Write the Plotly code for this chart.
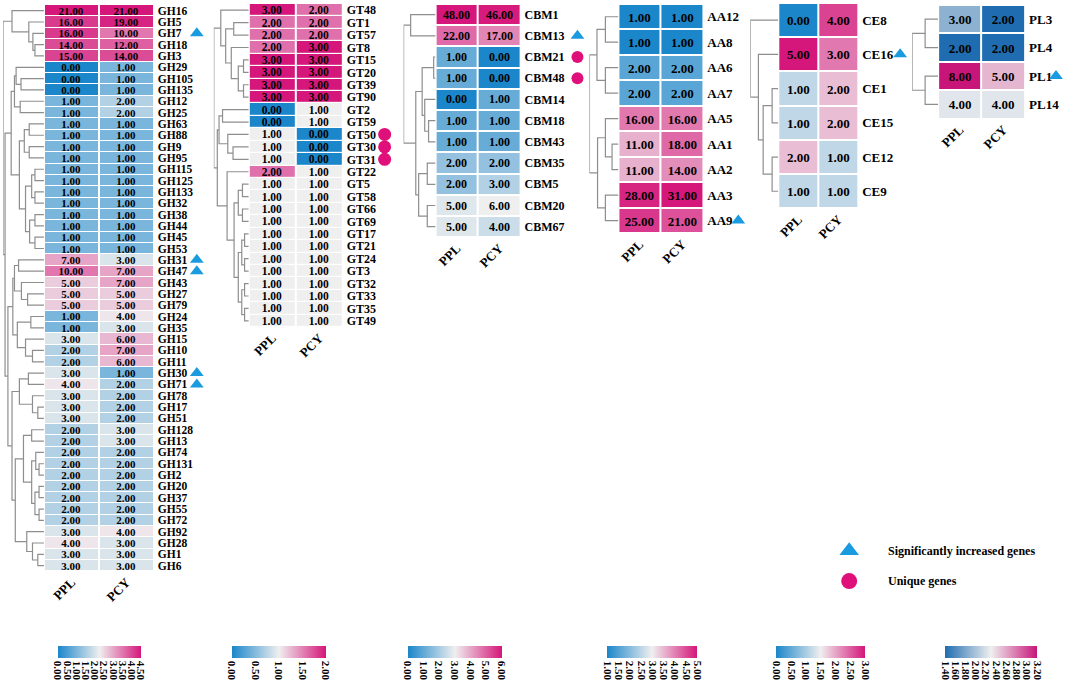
import numpy as np
import plotly.graph_objects as go

W, H = 1065, 688
FONT = "Liberation Serif"

# ---------------- data ----------------
gh_genes = ["GH16", "GH5", "GH7", "GH18", "GH3", "GH29", "GH105", "GH135", "GH12", "GH25",
            "GH63", "GH88", "GH9", "GH95", "GH115", "GH125", "GH133", "GH32", "GH38", "GH44",
            "GH45", "GH53", "GH31", "GH47", "GH43", "GH27", "GH79", "GH24", "GH35", "GH15",
            "GH10", "GH11", "GH30", "GH71", "GH78", "GH17", "GH51", "GH128", "GH13", "GH74",
            "GH131", "GH2", "GH20", "GH37", "GH55", "GH72", "GH92", "GH28", "GH1", "GH6"]
gh_ppl = [21, 16, 16, 14, 15, 0, 0, 0, 1, 1,
          1, 1, 1, 1, 1, 1, 1, 1, 1, 1,
          1, 1, 7, 10, 5, 5, 5, 1, 1, 3,
          2, 2, 3, 4, 3, 3, 3, 2, 2, 2,
          2, 2, 2, 2, 2, 2, 3, 4, 3, 3]
gh_pcy = [21, 19, 10, 12, 14, 1, 1, 1, 2, 2,
          1, 1, 1, 1, 1, 1, 1, 1, 1, 1,
          1, 1, 3, 7, 7, 5, 5, 4, 3, 6,
          7, 6, 1, 2, 2, 2, 2, 3, 3, 2,
          2, 2, 2, 2, 2, 2, 4, 3, 3, 3]
gh_increased = ["GH7", "GH31", "GH47", "GH30", "GH71"]
gh_unique = []

gt_genes = ["GT48", "GT1", "GT57", "GT8", "GT15", "GT20", "GT39", "GT90", "GT2", "GT59",
            "GT50", "GT30", "GT31", "GT22", "GT5", "GT58", "GT66", "GT69", "GT17", "GT21",
            "GT24", "GT3", "GT32", "GT33", "GT35", "GT49"]
gt_ppl = [3, 2, 2, 2, 3, 3, 3, 3, 0, 0, 1, 1, 1, 2, 1, 1, 1, 1, 1, 1, 1, 1, 1, 1, 1, 1]
gt_pcy = [2, 2, 2, 3, 3, 3, 3, 3, 1, 1, 0, 0, 0, 1, 1, 1, 1, 1, 1, 1, 1, 1, 1, 1, 1, 1]
gt_increased = []
gt_unique = ["GT50", "GT30", "GT31"]

cbm_genes = ["CBM1", "CBM13", "CBM21", "CBM48", "CBM14", "CBM18", "CBM43", "CBM35", "CBM5",
             "CBM20", "CBM67"]
cbm_ppl = [48, 22, 1, 1, 0, 1, 1, 2, 2, 5, 5]
cbm_pcy = [46, 17, 0, 0, 1, 1, 1, 2, 3, 6, 4]
cbm_increased = ["CBM13"]
cbm_unique = ["CBM21", "CBM48"]

aa_genes = ["AA12", "AA8", "AA6", "AA7", "AA5", "AA1", "AA2", "AA3", "AA9"]
aa_ppl = [1, 1, 2, 2, 16, 11, 11, 28, 25]
aa_pcy = [1, 1, 2, 2, 16, 18, 14, 31, 21]
aa_increased = ["AA9"]
aa_unique = []

ce_genes = ["CE8", "CE16", "CE1", "CE15", "CE12", "CE9"]
ce_ppl = [0, 5, 1, 1, 2, 1]
ce_pcy = [4, 3, 2, 2, 1, 1]
ce_increased = ["CE16"]
ce_unique = []

pl_genes = ["PL3", "PL4", "PL1", "PL14"]
pl_ppl = [3, 2, 8, 4]
pl_pcy = [2, 2, 5, 4]
pl_increased = ["PL1"]
pl_unique = []

samples = ["PPL", "PCY"]

# colour-bar ticks (log2(count+1) scale)
gh_ticks = [0.0, 0.5, 1.0, 1.5, 2.0, 2.5, 3.0, 3.5, 4.0, 4.5]
gt_ticks = [0.0, 0.5, 1.0, 1.5, 2.0]
cbm_ticks = [0.0, 1.0, 2.0, 3.0, 4.0, 5.0, 6.0]
aa_ticks = [1.0, 1.5, 2.0, 2.5, 3.0, 3.5, 4.0, 4.5, 5.0]
ce_ticks = [0.0, 0.5, 1.0, 1.5, 2.0, 2.5, 3.0]
pl_ticks = [1.4, 1.6, 1.8, 2.0, 2.2, 2.4, 2.6, 2.8, 3.0, 3.2]

# dendrogram linkage trees: (height, left, right), leaves = row index
gh_tree = (1.0,
           (0.78, 0, (0.37, 1, (0.27, 2, (0.22, 3, 4)))),
           (0.95,
            (0.8, (0.72, (0.68, 5, (0.56, 6, 7)), (0.58, 8, 9)),
             (0.6, (0.48, (0.36, 10, 11), (0.36, 12, 13)),
              (0.45, (0.3, (0.22, 14, 15), (0.22, 16, 17)),
               (0.35, (0.22, 18, 19), (0.22, 20, 21))))),
            (0.88,
             (0.76, (0.72, (0.62, 22, 23), (0.55, 24, (0.4, 25, 26))),
              (0.65, (0.32, 27, 28), (0.45, 29, (0.28, 30, 31)))),
             (0.78, (0.6, (0.38, 32, 33), (0.28, 34, (0.15, 35, 36))),
              (0.7, (0.5, (0.3, 37, 38),
                     (0.3, (0.2, 39, (0.12, 40, 41)),
                      (0.22, (0.12, 42, 43), (0.12, 44, 45)))),
               (0.42, 46, (0.28, 47, (0.15, 48, 49))))))))
gt_tree = (1.0,
           (0.8, 0, (0.66, (0.43, 1, 2), (0.5, 3, (0.3, (0.15, 4, 5), (0.15, 6, 7))))),
           (0.9, (0.85, (0.75, 8, 9), (0.6, 10, (0.45, 11, 12))),
            (0.62, 13, (0.42, (0.3, (0.18, 14, 15), (0.18, 16, 17)),
                        (0.3, (0.2, (0.12, 18, 19), (0.12, 20, 21)),
                         (0.2, (0.12, 22, 23), (0.12, 24, 25)))))))
cbm_tree = (1.0, (0.78, 0, 1),
            (0.62, (0.42, (0.06, 2, 3), (0.34, 4, (0.22, 5, 6))),
             (0.53, (0.26, 7, 8), (0.26, 9, 10))))
aa_tree = (1.0, (0.74, (0.45, 0, 1), (0.45, 2, 3)),
           (0.72, (0.45, 4, (0.22, 5, 6)), (0.45, 7, 8)))
ce_tree = (1.0, 0, (0.71, 1, (0.54, (0.22, 2, 3), (0.22, 4, 5))))
pl_tree = (1.0, (0.5, 0, 1), (0.5, 2, 3))

# ---------------- styling / layout (pixels) ----------------
BLUE, MID, PINK = "#1B86CA", "#EFEFEF", "#D5167A"
cs_main = [[0, BLUE], [0.5, MID], [1, PINK]]
cs_pl = [[0, "#1F6DB0"], [0.5, MID], [1, "#C8157A"]]
TRI_COLOR = "#1A9BE0"
DOT_COLOR = "#E0107A"

panels = [
    dict(genes=gh_genes, ppl=gh_ppl, pcy=gh_pcy, inc=gh_increased, uni=gh_unique, ticks=gh_ticks,
         tree=gh_tree, heat=(43, 153), dend=(2, 43), ys=(4, 572), mark=196, tsize=11, lsize=11.5,
         gaps=(2, 1), cb=(57, 83), cs=cs_main, msize=12),
    dict(genes=gt_genes, ppl=gt_ppl, pcy=gt_pcy, inc=gt_increased, uni=gt_unique, ticks=gt_ticks,
         tree=gt_tree, heat=(248, 342), dend=(213, 248), ys=(3, 327), mark=384, tsize=11.5, lsize=12,
         gaps=(2, 1.2), cb=(231, 94), cs=cs_main, msize=13),
    dict(genes=cbm_genes, ppl=cbm_ppl, pcy=cbm_pcy, inc=cbm_increased, uni=cbm_unique, ticks=cbm_ticks,
         tree=cbm_tree, heat=(435, 520), dend=(403, 435), ys=(3, 237), mark=577, tsize=12, lsize=12,
         gaps=(2, 2), cb=(407, 94), cs=cs_main, msize=12),
    dict(genes=aa_genes, ppl=aa_ppl, pcy=aa_pcy, inc=aa_increased, uni=aa_unique, ticks=aa_ticks,
         tree=aa_tree, heat=(618, 703), dend=(589, 618), ys=(3, 233), mark=738, tsize=13, lsize=13,
         gaps=(2, 2), cb=(607, 90), cs=cs_main, msize=12),
    dict(genes=ce_genes, ppl=ce_ppl, pcy=ce_pcy, inc=ce_increased, uni=ce_unique, ticks=ce_ticks,
         tree=ce_tree, heat=(778, 858), dend=(750, 778), ys=(2, 208), mark=900, tsize=13, lsize=13,
         gaps=(2, 2), cb=(776, 89), cs=cs_main, msize=12),
    dict(genes=pl_genes, ppl=pl_ppl, pcy=pl_pcy, inc=pl_increased, uni=pl_unique, ticks=pl_ticks,
         tree=pl_tree, heat=(938, 1025), dend=(912, 938), ys=(4, 118), mark=1056, tsize=13, lsize=13,
         gaps=(2, 2), cb=(945, 92), cs=cs_pl, msize=12),
]


def px_x(p):
    return p / W


def px_y(p):
    return 1 - p / H


def tree_segments(node, xs, ys):
    if isinstance(node, int):
        return float(node), 0.0
    h, left, right = node
    yl, hl = tree_segments(left, xs, ys)
    yr, hr = tree_segments(right, xs, ys)
    xs += [hl, h, h, hr, None]
    ys += [yl, yl, yr, yr, None]
    return (yl + yr) / 2, h


def btxt(s):
    return f"<span style='color:#000000'><b>{s}</b></span>"


fig = go.Figure()
layout = {}

for i, p in enumerate(panels):
    n = len(p["genes"])
    hx, dx, mxa, yax = f"x{3*i+1}", f"x{3*i+2}", f"x{3*i+3}", f"y{i+1}"
    counts = np.column_stack([p["ppl"], p["pcy"]]).astype(float)
    z = np.log2(counts + 1)
    text = [[btxt(f"{v:.2f}") for v in row] for row in counts]
    # cells: colours stretched over the panel's own data range
    fig.add_trace(go.Heatmap(
        z=z, x=[0, 1], y=list(range(n)), text=text, texttemplate="%{text}",
        textfont=dict(family=FONT, size=p["tsize"], color="#000000"),
        colorscale=p["cs"], zmin=float(z.min()), zmax=float(z.max()),
        xgap=p["gaps"][0], ygap=p["gaps"][1], showscale=False,
        hoverinfo="skip", xaxis=hx, yaxis=yax))
    # colour key below the panel
    tmin, tmax = p["ticks"][0], p["ticks"][-1]
    fig.add_trace(go.Scatter(
        x=[0, 0], y=[0, 0], mode="markers", xaxis=mxa, yaxis=yax, hoverinfo="skip",
        showlegend=False,
        marker=dict(size=1, opacity=0, color=[tmin, tmax], colorscale=p["cs"], cmin=tmin, cmax=tmax,
                    showscale=True,
                    colorbar=dict(orientation="h", x=px_x(p["cb"][0]), xanchor="left",
                                  y=px_y(647), yanchor="top", len=p["cb"][1], lenmode="pixels",
                                  thickness=12, thicknessmode="pixels", xpad=0, ypad=0,
                                  tickvals=p["ticks"],
                                  ticktext=[f"<b>{t:.2f}</b>" for t in p["ticks"]],
                                  tickangle=90, ticks="", outlinewidth=0,
                                  tickfont=dict(family=FONT, size=11, color="black")))))
    # dendrogram
    xs, ys = [], []
    tree_segments(p["tree"], xs, ys)
    fig.add_trace(go.Scatter(x=xs, y=ys, mode="lines", line=dict(color="#8E8E8E", width=1.2),
                             hoverinfo="skip", showlegend=False, xaxis=dx, yaxis=yax))
    # marker column (triangles = significantly increased, circles = unique)
    for names, sym, col in ((p["inc"], "triangle-up", TRI_COLOR), (p["uni"], "circle", DOT_COLOR)):
        if names:
            rows = [p["genes"].index(g) for g in names]
            fig.add_trace(go.Scatter(x=[0] * len(rows), y=rows, mode="markers",
                                     marker=dict(symbol=sym, size=p["msize"], color=col, opacity=1),
                                     cliponaxis=False, hoverinfo="skip", showlegend=False,
                                     xaxis=mxa, yaxis=yax))
    layout[f"xaxis{3*i+1}"] = dict(
        domain=[px_x(p["heat"][0]), px_x(p["heat"][1])], range=[-0.5, 1.5],
        anchor=yax, tickvals=[0, 1], ticktext=[f"<b>{s}</b>" for s in samples],
        tickangle=-45, ticks="", showgrid=False, zeroline=False, showline=False,
        tickfont=dict(family=FONT, size=13, color="black"), fixedrange=True)
    layout[f"xaxis{3*i+2}"] = dict(
        domain=[px_x(p["dend"][0]), px_x(p["dend"][1])], range=[1.0, 0.0],
        anchor=yax, visible=False, fixedrange=True)
    layout[f"xaxis{3*i+3}"] = dict(
        domain=[px_x(p["mark"] - 8), px_x(p["mark"] + 8)], range=[-1, 1],
        anchor=yax, visible=False, fixedrange=True)
    layout[f"yaxis{i+1}"] = dict(
        domain=[px_y(p["ys"][1]), px_y(p["ys"][0])], range=[n - 0.5, -0.5],
        anchor=hx, side="right", tickvals=list(range(n)),
        ticktext=[f"<b>{g}</b>" for g in p["genes"]], ticks="",
        ticklabelstandoff=3, showgrid=False, zeroline=False, showline=False,
        tickfont=dict(family=FONT, size=p["lsize"], color="black"), fixedrange=True)

# legend keys on a small overlay axis (legend area only)
legend_labels = ["Significantly increased genes", "Unique genes"]
legend_symbols = ["triangle-up", "circle"]
legend_colors = [TRI_COLOR, DOT_COLOR]
legend_rows = [0, 1]
LX0, LX1, LY0, LY1 = 830, 1055, 536, 597
lscale = 2 / (LX1 - LX0)
fig.add_trace(go.Scatter(x=[0, 0], y=legend_rows, mode="markers",
                         marker=dict(symbol=legend_symbols, size=[17, 16], color=legend_colors,
                                     opacity=1, line=dict(width=0)),
                         cliponaxis=False, hoverinfo="skip", showlegend=False,
                         xaxis="x19", yaxis="y7"))
layout["xaxis19"] = dict(domain=[px_x(LX0), px_x(LX1)],
                         range=[(LX0 - 849) * lscale, (LX1 - 849) * lscale],
                         visible=False, anchor="y7", fixedrange=True)
layout["yaxis7"] = dict(domain=[px_y(LY1), px_y(LY0)], range=[1.5, -0.5], visible=False,
                        anchor="x19", fixedrange=True)
annotations = [dict(x=(886 - 849) * lscale, y=r, xref="x19", yref="y7", text=f"<b>{t}</b>",
                    showarrow=False, xanchor="left", yanchor="middle",
                    font=dict(family=FONT, size=12, color="black"))
               for t, r in zip(legend_labels, legend_rows)]

fig.update_layout(width=W, height=H, margin=dict(l=0, r=0, t=0, b=0),
                  paper_bgcolor="white", plot_bgcolor="rgba(0,0,0,0)", showlegend=False,
                  annotations=annotations, **layout)
# the page's default 8px body margin would push the 1065x688 figure out of the window
fig.write_html("out.html", config={"displayModeBar": False},
               post_script="document.body.style.margin='0px';")
